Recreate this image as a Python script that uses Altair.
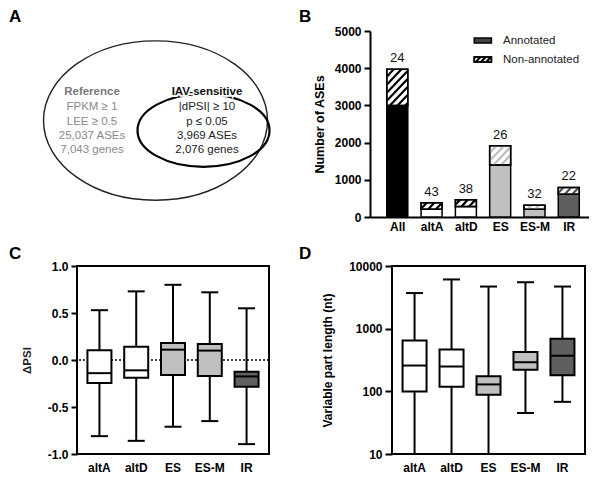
import math
import altair as alt
import pandas as pd

FONT = "Liberation Sans"

# ---------------- data ----------------
# Panel A (Venn)
venn_left_lines = ["Reference", "FPKM ≥ 1", "LEE ≥ 0.5", "25,037 ASEs", "7,043 genes"]
venn_right_lines = ["IAV-sensitive", "|dPSI| ≥ 10", "p ≤ 0.05", "3,969 ASEs", "2,076 genes"]

# Panel B
b_cats = ["All", "altA", "altD", "ES", "ES-M", "IR"]
b_total = [3969, 380, 467, 1918, 318, 796]
b_annot = [3000, 210, 285, 1400, 210, 610]
b_pct = [24, 43, 38, 26, 32, 22]
b_fill = ["#000000", "#ffffff", "#ffffff", "#c0c0c0", "#c0c0c0", "#5f5f5f"]
b_hatch = ["#000000", "#000000", "#000000", "#bdbdbd", "#bdbdbd", "#505050"]
legend_labels = ["Annotated", "Non-annotated"]

# Panel C (delta PSI box plots)
c_cats = ["altA", "altD", "ES", "ES-M", "IR"]
c_min = [-0.81, -0.86, -0.71, -0.65, -0.895]
c_q1 = [-0.245, -0.19, -0.16, -0.17, -0.285]
c_med = [-0.14, -0.11, 0.11, 0.10, -0.175]
c_q3 = [0.105, 0.14, 0.18, 0.17, -0.125]
c_max = [0.53, 0.73, 0.80, 0.72, 0.55]
box_fill = ["#ffffff", "#ffffff", "#c0c0c0", "#c0c0c0", "#5f5f5f"]

# Panel D (variable part length box plots)
d_min = [10, 10, 10, 45, 68]
d_q1 = [99, 118, 88, 221, 180]
d_med = [258, 249, 129, 291, 370]
d_q3 = [650, 464, 174, 426, 690]
d_max = [3700, 6100, 4700, 5500, 4700]

# ---------------- layout constants ----------------
A_W, A_H = 170, 186
A_X0, A_Y0, A_Y1 = 76, 30, 219
B_W, B_H = 219, 186
C_W, C_H = 192, 188
D_W, D_H = 193, 188
ROW_GAP = 12
COL_GAP = 123

# ---------------- Panel A ----------------
ax_scale = alt.Scale(domain=[A_X0, A_X0 + A_W], nice=False, zero=False)
ay_scale = alt.Scale(domain=[A_Y0, A_Y1], nice=False, zero=False, reverse=True)
ay_k = A_H / (A_Y1 - A_Y0)


def ellipse_layer(cx, cy, rx, ry, color, sw):
    r = ry * ay_k / rx
    path = f"M -1 0 A 1 {r:.4f} 0 1 1 1 0 A 1 {r:.4f} 0 1 1 -1 0 Z"
    df = pd.DataFrame({"x": [cx], "y": [cy]})
    return alt.Chart(df).mark_point(
        shape=path, filled=False, size=(2 * rx) ** 2, stroke=color,
        strokeWidth=sw, opacity=1
    ).encode(
        x=alt.X("x:Q", scale=ax_scale, axis=None),
        y=alt.Y("y:Q", scale=ay_scale, axis=None),
    )


line_y = [92, 107.5, 122, 136.5, 150.5]
left_df = pd.DataFrame({"x": 91, "y": line_y, "t": venn_left_lines})
right_df = pd.DataFrame({"x": 206, "y": line_y, "t": venn_right_lines})


def text_layer(df, color, weight, halo=False):
    kw = dict(fontSize=11.5, font=FONT, fontWeight=weight, align="center", baseline="middle")
    if halo:
        kw.update(color="white", stroke="white", strokeWidth=3.5)
    else:
        kw.update(color=color)
    return alt.Chart(df).mark_text(**kw).encode(
        x=alt.X("x:Q", scale=ax_scale, axis=None),
        y=alt.Y("y:Q", scale=ay_scale, axis=None),
        text="t:N",
    )


letters_ab = pd.DataFrame({"px": [8 - A_X0, 298 - A_X0], "py": [-22, -22], "t": ["A", "B"]})
letters_layer = alt.Chart(letters_ab).mark_text(
    fontSize=17, fontWeight="bold", font=FONT, align="left", baseline="top", color="black"
).encode(
    x=alt.X("px:Q", scale=None, axis=None),
    y=alt.Y("py:Q", scale=None, axis=None),
    text="t:N",
)

panel_a = alt.layer(
    ellipse_layer(154.5, 121, 112, 81, "#222222", 1.4),
    ellipse_layer(202.5, 131, 66, 37, "#000000", 2.2),
    text_layer(left_df.iloc[:1], "#777777", "bold"),
    text_layer(left_df.iloc[1:], "#8a8a8a", "normal"),
    text_layer(right_df.iloc[:1], "#111111", "bold", halo=True),
    text_layer(right_df.iloc[:1], "#111111", "bold"),
    text_layer(right_df.iloc[1:], "#222222", "normal"),
).properties(width=A_W, height=A_H)
panel_a = alt.layer(panel_a, letters_layer).properties(width=A_W, height=A_H)

# ---------------- Panel B ----------------
XMIN = -0.65
KX = 221 / 6.15          # pixels per category step
XMAX = XMIN + B_W / KX
YMAX = 5000
kx = B_W / (XMAX - XMIN)
ky = B_H / YMAX
BAR_W = 21


def hatch_segments(xl, xr, y_lo, y_hi, step):
    """Diagonal (/) segments clipped to a pixel rectangle (y up)."""
    segs = []
    c = math.floor((y_lo - xr) / step) * step
    while c <= y_hi - xl:
        lo = max(xl, y_lo - c)
        hi = min(xr, y_hi - c)
        if hi - lo > 0.4:
            segs.append((lo, lo + c, hi, hi + c))
        c += step
    return segs


def px_to_data(px, py):
    return px / kx + XMIN, py / ky


hatch_rows = []
for i in range(len(b_cats)):
    xc = (i - XMIN) * kx
    for (x1, y1, x2, y2) in hatch_segments(xc - BAR_W / 2, xc + BAR_W / 2,
                                           b_annot[i] * ky, b_total[i] * ky, 8):
        dx1, dy1 = px_to_data(x1, y1)
        dx2, dy2 = px_to_data(x2, y2)
        hatch_rows.append({"x": dx1, "y": dy1, "x2": dx2, "y2": dy2, "col": b_hatch[i]})

# legend swatches (pixel rect, y from top) -> data
sw_rects = [(104, 122, 7, 12), (104, 122, 26, 31)]
leg_rows = []
for (x1, x2, yt, yb) in sw_rects:
    dx1, dy1 = px_to_data(x1, B_H - yb)
    dx2, dy2 = px_to_data(x2, B_H - yt)
    leg_rows.append({"x": dx1, "x2": dx2, "y": dy1, "y2": dy2})
leg_df = pd.DataFrame(leg_rows)
leg_df["fill"] = ["#444444", "#ffffff"]
x1, x2, yt, yb = sw_rects[1]
for (sx1, sy1, sx2, sy2) in hatch_segments(x1, x2, B_H - yb, B_H - yt, 5.5):
    dx1, dy1 = px_to_data(sx1, sy1)
    dx2, dy2 = px_to_data(sx2, sy2)
    hatch_rows.append({"x": dx1, "y": dy1, "x2": dx2, "y2": dy2, "col": "#000000"})
hatch_df = pd.DataFrame(hatch_rows)

b_df = pd.DataFrame({
    "idx": list(range(len(b_cats))),
    "total": b_total,
    "annot": b_annot,
    "zero": 0,
    "pct": [str(p) for p in b_pct],
    "fill": b_fill,
})

bx = alt.Scale(domain=[XMIN, XMAX], nice=False, zero=False)
by = alt.Scale(domain=[0, YMAX], nice=False)
label_expr = "[" + ",".join(f"'{c}'" for c in b_cats) + "][datum.value]"
bx_axis = alt.Axis(values=list(range(len(b_cats))), labelExpr=label_expr, title=None,
                   ticks=False, tickSize=0, labelPadding=4, labelFontSize=12,
                   labelFontWeight="bold", domainWidth=2, grid=False, labelAngle=0,
                   labelOverlap=False, labelFlush=False)
by_axis = alt.Axis(values=[0, 1000, 2000, 3000, 4000, 5000], format="d",
                   title="Number of ASEs", tickSize=6, tickWidth=2, domainWidth=2,
                   labelPadding=3, labelFontSize=12, labelFontWeight="bold",
                   titleFontSize=12.5, titleFontWeight="bold", titlePadding=8, grid=False)


def BX(f):
    return alt.X(f, scale=bx, axis=bx_axis)


def BY(f):
    return alt.Y(f, scale=by, axis=by_axis)


annot_bars = alt.Chart(b_df).mark_bar(size=BAR_W, stroke="black", strokeWidth=1.5).encode(
    x=BX("idx:Q"), y=BY("annot:Q"), y2=alt.Y2("zero:Q"),
    fill=alt.Fill("fill:N", scale=None),
)
non_bars = alt.Chart(b_df).mark_bar(size=BAR_W, fill="white", stroke="black", strokeWidth=1.5).encode(
    x=BX("idx:Q"), y=BY("total:Q"), y2=alt.Y2("annot:Q"),
)
leg_rect = alt.Chart(leg_df).mark_rect(stroke="black", strokeWidth=1.5).encode(
    x=BX("x:Q"), x2=alt.X2("x2:Q"), y=BY("y:Q"), y2=alt.Y2("y2:Q"),
    fill=alt.Fill("fill:N", scale=None),
)
hatch = alt.Chart(hatch_df).mark_rule(strokeWidth=2.2, strokeCap="butt").encode(
    x=BX("x:Q"), x2=alt.X2("x2:Q"), y=BY("y:Q"), y2=alt.Y2("y2:Q"),
    color=alt.Color("col:N", scale=None),
)
non_outline = alt.Chart(b_df).mark_bar(size=BAR_W, fillOpacity=0, stroke="black", strokeWidth=1.5).encode(
    x=BX("idx:Q"), y=BY("total:Q"), y2=alt.Y2("annot:Q"),
)
leg_outline = alt.Chart(leg_df.iloc[1:]).mark_rect(fillOpacity=0, stroke="black", strokeWidth=1.5).encode(
    x=BX("x:Q"), x2=alt.X2("x2:Q"), y=BY("y:Q"), y2=alt.Y2("y2:Q"),
)
pct_text = alt.Chart(b_df).mark_text(baseline="bottom", dy=-4, fontSize=13, font=FONT, color="#111111").encode(
    x=BX("idx:Q"), y=BY("total:Q"), text="pct:N",
)
leg_text_df = pd.DataFrame({"t": legend_labels, "px": [133, 133], "py": [10, 29]})
leg_text = alt.Chart(leg_text_df).mark_text(align="left", baseline="middle", fontSize=11.5,
                                             font=FONT, color="#222222").encode(
    x=alt.X("px:Q", scale=None, axis=None), y=alt.Y("py:Q", scale=None, axis=None), text="t:N",
)

panel_b = alt.layer(
    annot_bars, non_bars, leg_rect, hatch, non_outline, leg_outline, pct_text
).properties(width=B_W, height=B_H)
panel_b = alt.layer(panel_b, leg_text).properties(width=B_W, height=B_H)


# ---------------- Panels C and D ----------------
def box_panel(cats, mn, q1, med, q3, mx, fills, yscale, yaxis, w, h, extra=None):
    df = pd.DataFrame({"cat": cats, "mn": mn, "q1": q1, "med": med, "q3": q3,
                       "mx": mx, "fill": fills})
    xs = alt.Scale(domain=cats, paddingInner=0, paddingOuter=0.11)
    xa = alt.Axis(title=None, ticks=False, tickSize=0, labelPadding=8, labelAngle=0,
                  labelFontSize=12, labelFontWeight="bold", domain=False, grid=False)

    def X():
        return alt.X("cat:N", scale=xs, axis=xa, sort=cats)

    def Y(f):
        return alt.Y(f, scale=yscale, axis=yaxis)

    whisk = alt.Chart(df).mark_rule(strokeWidth=2, color="black").encode(
        x=X(), y=Y("mn:Q"), y2=alt.Y2("mx:Q"))
    box = alt.Chart(df).mark_bar(size=24, stroke="black", strokeWidth=2).encode(
        x=X(), y=Y("q1:Q"), y2=alt.Y2("q3:Q"), fill=alt.Fill("fill:N", scale=None))
    med_t = alt.Chart(df).mark_tick(size=24, thickness=2, color="black", opacity=1).encode(
        x=X(), y=Y("med:Q"))
    cap_lo = alt.Chart(df).mark_tick(size=17, thickness=2, color="black", opacity=1).encode(
        x=X(), y=Y("mn:Q"))
    cap_hi = alt.Chart(df).mark_tick(size=17, thickness=2, color="black", opacity=1).encode(
        x=X(), y=Y("mx:Q"))
    layers = [whisk, cap_lo, cap_hi, box, med_t]
    if extra is not None:
        layers = [extra] + layers
    return alt.layer(*layers).properties(
        width=w, height=h, view=alt.ViewBackground(stroke="black", strokeWidth=2))


c_scale = alt.Scale(domain=[-1, 1], nice=False)
c_axis = alt.Axis(values=[-1, -0.5, 0, 0.5, 1],
                  labelExpr="replace(format(datum.value, '.1f'), '\u2212', '-')",
                  title="ΔPSI", tickSize=6, tickWidth=2, domain=False, labelPadding=3,
                  labelFontSize=12, labelFontWeight="bold", titleFontSize=11.5,
                  titleFontWeight="bold", titleColor="#222222", titlePadding=15, grid=False)
zero_rule = alt.Chart(pd.DataFrame({"z": [0]})).mark_rule(
    strokeDash=[2, 2], strokeWidth=1.6, color="black").encode(
    y=alt.Y("z:Q", scale=c_scale, axis=c_axis))

panel_c_core = box_panel(c_cats, c_min, c_q1, c_med, c_q3, c_max, box_fill,
                         c_scale, c_axis, C_W, C_H, extra=zero_rule)

letters_cd = pd.DataFrame({"t": ["C", "D"], "px": [8 - 76, 298 - 76], "py": [-20, -20]})
letters_cd_layer = alt.Chart(letters_cd).mark_text(
    fontSize=17, fontWeight="bold", font=FONT, align="left", baseline="top", color="black"
).encode(x=alt.X("px:Q", scale=None, axis=None), y=alt.Y("py:Q", scale=None, axis=None), text="t:N")

panel_c = alt.layer(panel_c_core, letters_cd_layer).properties(
    width=C_W, height=C_H, view=alt.ViewBackground(stroke="black", strokeWidth=2))

d_scale = alt.Scale(type="log", domain=[10, 10000], nice=False)
d_axis = alt.Axis(values=[10, 100, 1000, 10000], format="d",
                  title="Variable part length (nt)", tickSize=7, tickWidth=2, domain=False,
                  labelPadding=3, labelFontSize=12, labelFontWeight="bold",
                  titleFontSize=12, titleFontWeight="bold", titlePadding=14, grid=False)
panel_d = box_panel(c_cats, d_min, d_q1, d_med, d_q3, d_max, box_fill,
                    d_scale, d_axis, D_W, D_H)

row1 = alt.hconcat(panel_a, panel_b, spacing=COL_GAP, bounds="flush")
row2 = alt.hconcat(panel_c, panel_d, spacing=COL_GAP, bounds="flush")

chart = alt.vconcat(row1, row2, spacing=ROW_GAP, bounds="full").properties(
    padding=0
).configure_view(stroke=None).configure_axis(
    labelFont=FONT, titleFont=FONT, domainColor="black", tickColor="black",
    labelColor="black", titleColor="black"
).configure_text(font=FONT)

chart.save("out.html", embed_options={"renderer": "svg", "actions": False})
